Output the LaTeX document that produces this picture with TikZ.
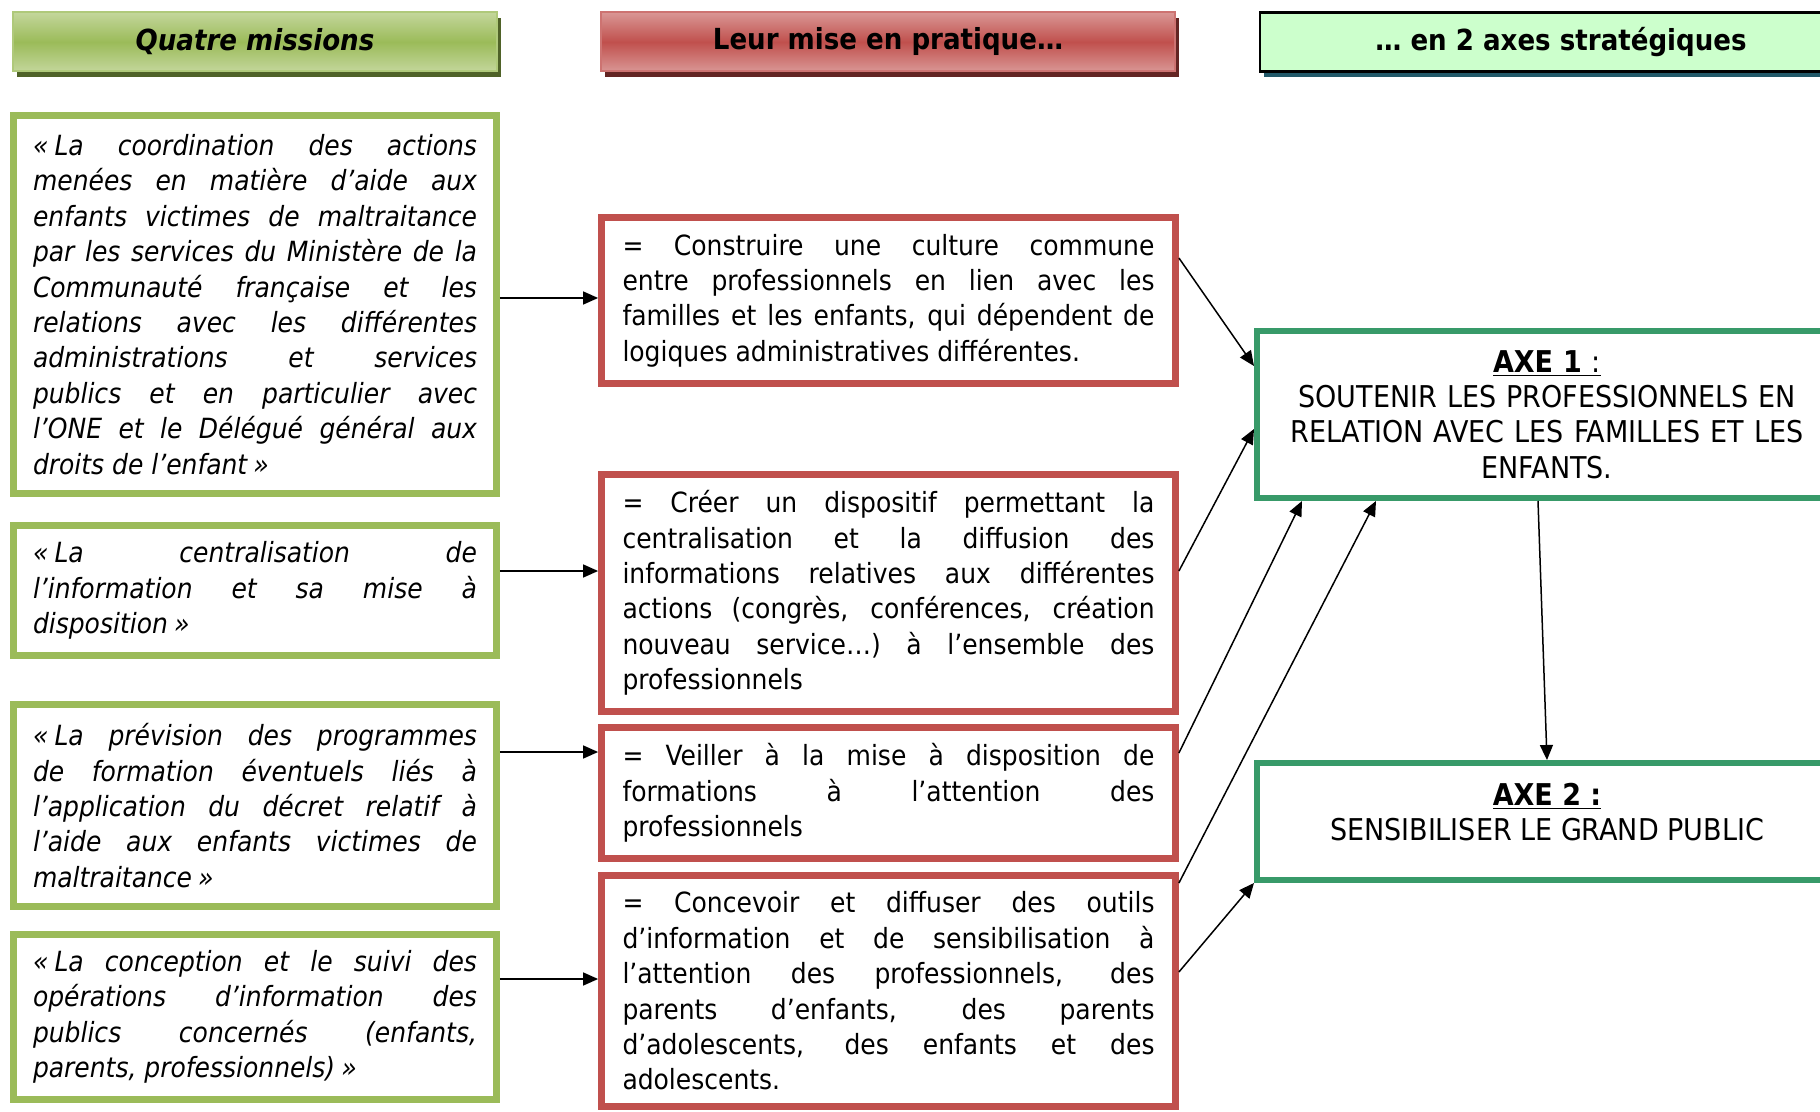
\documentclass[tikz,border=0pt]{standalone}
\usepackage{fontspec}
\setmainfont{DejaVuSansCondensed}[Extension=.ttf, ItalicFont=DejaVuSansCondensed-Oblique, BoldFont=DejaVuSansCondensed-Bold, BoldItalicFont=DejaVuSansCondensed-BoldOblique]
\usetikzlibrary{arrows.meta,shadows}
\definecolor{mgreen}{HTML}{9BBB59}
\definecolor{mgreenl}{HTML}{C3D69B}
\definecolor{mgreend}{HTML}{4F6228}
\definecolor{mred}{HTML}{C0504D}
\definecolor{mredl}{HTML}{D99694}
\definecolor{mredd}{HTML}{632523}
\definecolor{axg}{HTML}{389A69}
\definecolor{hfill}{HTML}{CCFFCC}
\definecolor{hshad}{HTML}{215868}
\hbadness=10000
\begin{document}
\begin{tikzpicture}[x=0.5pt,y=-0.5pt,
 axfont/.style={font=\fontsize{15pt}{17.7pt}\selectfont},
 gbox/.style={draw=mgreen, line width=3.4pt, align=justify, text width=222pt, inner sep=0pt, minimum width=241.5pt, font=\fontsize{13.9pt}{17.7pt}\selectfont\itshape},
 rbox/.style={draw=mred, line width=3.4pt, align=justify, text width=266pt, inner sep=0pt, minimum width=287pt, font=\fontsize{13.9pt}{17.7pt}\selectfont},
 abox/.style={draw=axg, line width=3pt, align=center, text width=285pt, inner sep=0pt, minimum width=290pt, font=\fontsize{15pt}{17.7pt}\selectfont},
 hdr/.style={line width=1pt, inner sep=0pt, minimum height=29.5pt, font=\fontsize{14.5pt}{17.7pt}\selectfont\bfseries},
 arr/.style={-{Triangle[length=7.5pt,width=6.5pt]}, line width=0.75pt, black}
]
\useasboundingbox (0,0) rectangle (1820,1112);
\clip (0,0) rectangle (1820,1112);
\fill[white] (0,0) rectangle (1820,1112);

% headers
\node[hdr, draw=mgreen!80!white, top color=mgreenl, bottom color=mgreenl, middle color=mgreen,
  minimum width=242pt, drop shadow={shadow xshift=2pt, shadow yshift=-3pt, fill=mgreend, opacity=1}]
  (h1) at (255,42) {\itshape Quatre missions};
\node[hdr, draw=mred!80!white, top color=mredl, bottom color=mredl, middle color=mred,
  minimum width=287pt, drop shadow={shadow xshift=2pt, shadow yshift=-3pt, fill=mredd, opacity=1}]
  (h2) at (888,42) {Leur mise en pratique…};
\node[hdr, draw=black, line width=1.2pt, fill=hfill,
  minimum width=301pt, drop shadow={shadow xshift=2pt, shadow yshift=-3pt, fill=hshad, opacity=1}]
  (h3) at (1561,42) {… en 2 axes stratégiques};

% green boxes
\node[gbox, minimum height=189pt] (G1) at (255,304.5) {«\hspace{.22em}La coordination des actions\linebreak
menées en matière d’aide aux\linebreak
enfants victimes de maltraitance\linebreak
par les services du Ministère de la\linebreak
Communauté française et les\linebreak
relations avec les différentes\linebreak
administrations et services\linebreak
publics et en particulier avec\linebreak
l’ONE et le Délégué général aux\linebreak
droits de l’enfant\hspace{.22em}»};
\node[gbox, minimum height=65pt] (G2) at (255,590.5) {«\hspace{.22em}La centralisation de\linebreak
l’information et sa mise à\linebreak
disposition\hspace{.22em}»};
\node[gbox, minimum height=101pt] (G3) at (255,805.5) {«\hspace{.22em}La prévision des programmes\linebreak
de formation éventuels liés à\linebreak
l’application du décret relatif à\linebreak
l’aide aux enfants victimes de\linebreak
maltraitance\hspace{.22em}»};
\node[gbox, minimum height=82.5pt] (G4) at (255,1017) {«\hspace{.22em}La conception et le suivi des\linebreak
opérations d’information des\linebreak
publics concernés (enfants,\linebreak
parents, professionnels)\hspace{.22em}»};

% red boxes
\node[rbox, minimum height=83pt] (R1) at (888.5,300.5) {= Construire une culture commune\linebreak
entre professionnels en lien avec les\linebreak
familles et les enfants, qui dépendent de\linebreak
logiques administratives différentes.};
\node[rbox, minimum height=118.5pt] (R2) at (888.5,593) {= Créer un dispositif permettant la\linebreak
centralisation et la diffusion des\linebreak
informations relatives aux différentes\linebreak
actions (congrès, conférences, création\linebreak
nouveau service…) à l’ensemble des\linebreak
professionnels};
\node[rbox, minimum height=65.5pt] (R3) at (888.5,793) {= Veiller à la mise à disposition de\linebreak
formations à l’attention des\linebreak
professionnels};
\node[rbox, minimum height=115.5pt] (R4) at (888.5,991) {= Concevoir et diffuser des outils\linebreak
d’information et de sensibilisation à\linebreak
l’attention des professionnels, des\linebreak
parents d’enfants, des parents\linebreak
d’adolescents, des enfants et des\linebreak
adolescents.};

% axes
\node[abox, minimum height=83.5pt] (A1) at (1547,414.5) {\underline{\textbf{AXE 1} :}\\
SOUTENIR LES PROFESSIONNELS EN\\
RELATION AVEC LES FAMILLES ET LES\\
ENFANTS.};
\node[abox, minimum height=58.5pt] (A2) at (1547,821.5) {};
\node[axfont, align=center, inner sep=0pt] (A2t) at (1547,812) {\underline{\textbf{AXE 2 :}}\\
SENSIBILISER LE GRAND PUBLIC};

% arrows left -> middle
\draw[arr] ([yshift=3.25pt]G1.east) -- ([yshift=3.25pt]G1.east -| R1.west);
\draw[arr] ([yshift=9.75pt]G2.east) -- ([yshift=9.75pt]G2.east -| R2.west);
\draw[arr] ([yshift=26.75pt]G3.east) -- ([yshift=26.75pt]G3.east -| R3.west);
\draw[arr] ([yshift=19pt]G4.east) -- ([yshift=19pt]G4.east -| R4.west);

% arrows middle -> axes
\draw[arr] ([yshift=21.25pt]R1.east) -- ([yshift=24.25pt]A1.west);
\draw[arr] ([yshift=11pt]R2.east) -- ([yshift=-7.25pt]A1.west);
\draw[arr] ([yshift=20pt]R3.east) -- ([xshift=-122.5pt]A1.south);
\draw[arr] ([yshift=54pt]R4.east) -- ([xshift=-85.5pt]A1.south);
\draw[arr] ([yshift=9.5pt]R4.east) -- (A2.south west);
\draw[arr] ([xshift=-4.5pt]A1.south) -- ([xshift=0pt]A2.north);
\end{tikzpicture}
\end{document}
